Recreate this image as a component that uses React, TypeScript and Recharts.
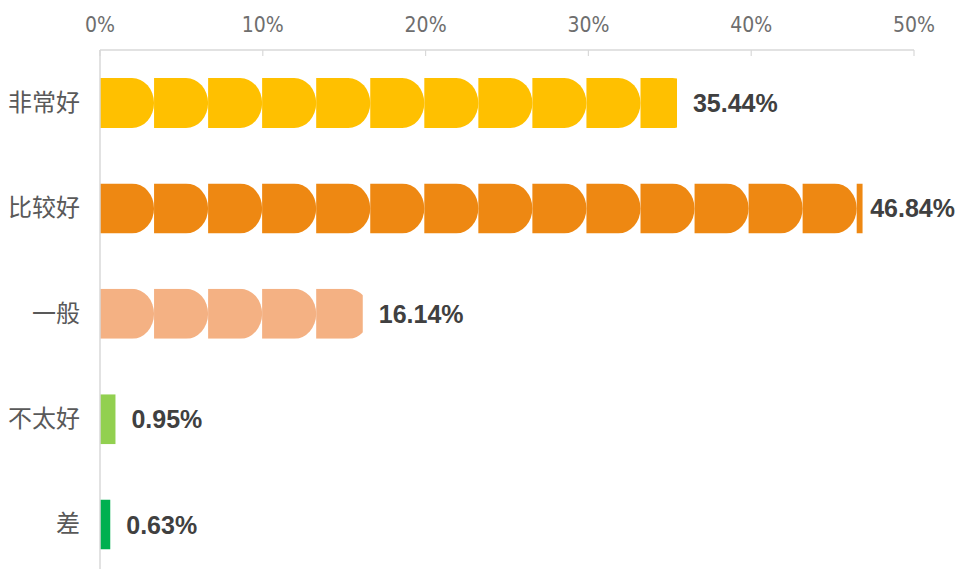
import React from 'react';
import { BarChart, Bar, XAxis, YAxis, Cell, LabelList } from 'recharts';

const categories = ['非常好', '比较好', '一般', '不太好', '差'];
const values = [35.44, 46.84, 16.14, 0.95, 0.63];
const colors = ['#FFC000', '#EE8812', '#F4B183', '#92D050', '#00B050'];
const xTicks = [0, 10, 20, 30, 40, 50];
const unitPct = 3.32; // one pictograph icon = this many percent

const data = categories.map((c, i) => ({ name: c, value: values[i], color: colors[i] }));

const AXIS = '#d9d9d9';

const DShape = (props: any) => {
  const { x, y, width, height, fill, index, value } = props;
  if (!width || width <= 0) return null;
  const v = Array.isArray(value) ? value[1] - value[0] : value;
  const period = (width / v) * unitPct;
  const rectW = (period * 32) / 54;
  const rx = (period * 22) / 54;
  const n = Math.ceil(width / period) + 1;
  const id = `clip-d-${index}`;
  const paths = [];
  for (let k = 0; k < n; k++) {
    const x0 = x + k * period;
    const d = `M${x0},${y} H${x0 + rectW} A${rx},${height / 2} 0 0 1 ${x0 + rectW},${y + height} H${x0} Z`;
    paths.push(<path key={k} d={d} fill={fill} />);
  }
  return (
    <g>
      <defs>
        <clipPath id={id}>
          <rect x={x} y={y} width={width} height={height} />
        </clipPath>
      </defs>
      <g clipPath={`url(#${id})`}>{paths}</g>
    </g>
  );
};

const XTick = (props: any) => {
  const { x, y, payload } = props;
  return (
    <g>
      <line x1={x} y1={y} x2={x} y2={y + 6} stroke={AXIS} strokeWidth={1.2} />
      <text
        x={x}
        y={y - 18}
        textAnchor="middle"
        fill="#6e6e6e"
        fontSize={21}
        fontFamily="'Liberation Sans Narrow', 'DejaVu Sans Condensed', sans-serif"
      >
        {`${payload.value}%`}
      </text>
    </g>
  );
};

const YTick = (props: any) => {
  const { x, y, payload } = props;
  return (
    <text
      x={x - 20}
      y={y}
      dy={8}
      textAnchor="end"
      fill="#595959"
      fontSize={24}
      fontFamily="'Noto Sans CJK SC', sans-serif"
    >
      {payload.value}
    </text>
  );
};

const ValueLabel = (props: any) => {
  const { x, y, width, height, value } = props;
  const end = x + width;
  const txt = `${Number(value).toFixed(2)}%`;
  const overflow = end + 16 + 88 > 956;
  return (
    <text
      x={overflow ? 955 : end + 16}
      y={y + height / 2}
      dy={9}
      textAnchor={overflow ? 'end' : 'start'}
      fill="#404040"
      fontSize={25}
      fontWeight="bold"
      fontFamily="'Liberation Sans', Arial, sans-serif"
    >
      {txt}
    </text>
  );
};

export default function App() {
  return (
    <div style={{ position: 'absolute', left: 0, top: 0, width: 956, height: 569, overflow: 'hidden', background: '#fff' }}>
      <BarChart
        layout="vertical"
        width={956}
        height={577}
        data={data}
        margin={{ top: 0, right: 42, bottom: 0, left: 0 }}
        barSize={50}
      >
        <XAxis
          type="number"
          orientation="top"
          domain={[0, 50]}
          ticks={xTicks}
          height={50}
          axisLine={{ stroke: AXIS, strokeWidth: 1.5 }}
          tickLine={false}
          tickSize={0}
          tickMargin={0}
          tick={<XTick />}
          interval={0}
        />
        <YAxis
          type="category"
          dataKey="name"
          width={100}
          axisLine={{ stroke: AXIS, strokeWidth: 1.5 }}
          tickLine={false}
          tickSize={0}
          tickMargin={0}
          tick={<YTick />}
        />
        <Bar dataKey="value" isAnimationActive={false} shape={<DShape />}>
          {data.map((d, i) => (
            <Cell key={i} fill={d.color} />
          ))}
          <LabelList dataKey="value" content={<ValueLabel />} />
        </Bar>
      </BarChart>
    </div>
  );
}
